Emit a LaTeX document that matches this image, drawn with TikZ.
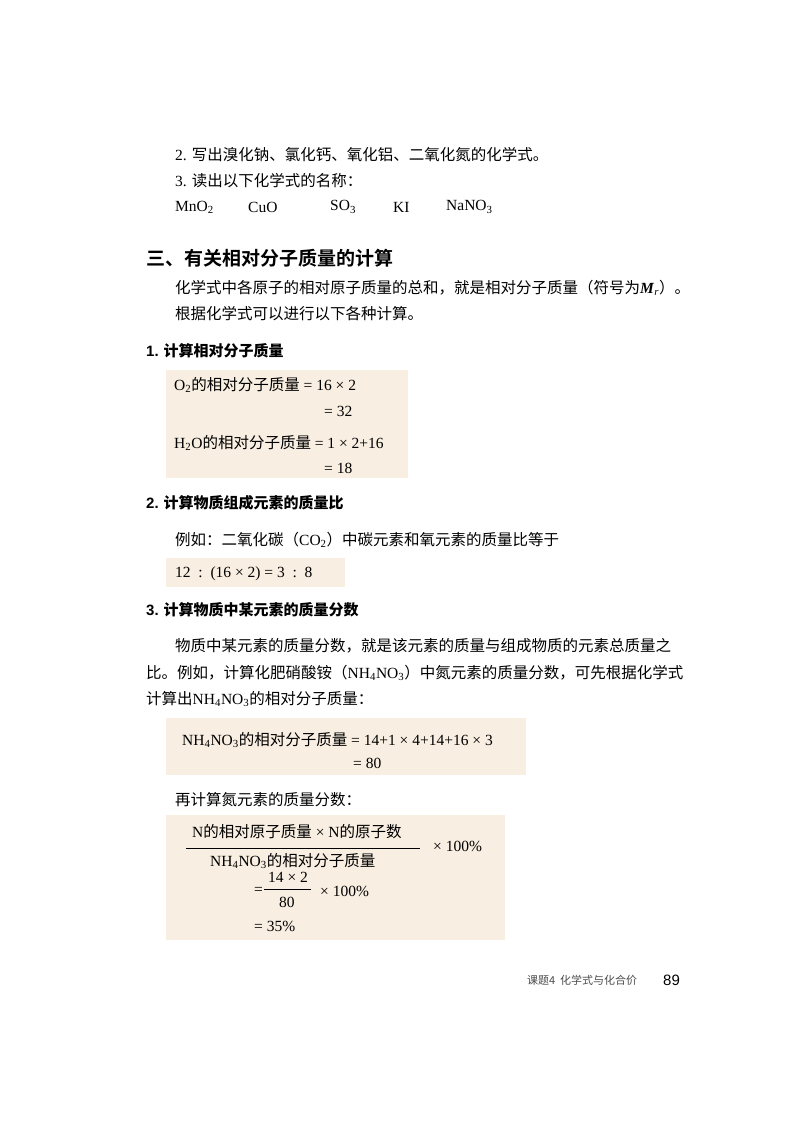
\documentclass[tikz,border=0pt]{standalone}
\usepackage{fontspec}
\setmainfont{Liberation Serif}
\newfontfamily\cjk{Noto Sans CJK SC}
\newfontfamily\cjkb{Noto Sans CJK SC Bold}
\newfontfamily\hsans{Liberation Sans}
\newcommand{\sbs}[1]{\textsubscript{#1}}
\definecolor{boxc}{HTML}{F8EEE1}
\begin{document}
\begin{tikzpicture}[x=1pt,y=-1pt,
  t/.style={anchor=west,inner sep=0pt,font=\fontsize{15.5}{17}\selectfont},
  hd/.style={anchor=west,inner sep=0pt,font=\fontsize{15}{17}\selectfont\bfseries},
  bx/.style={fill=boxc,draw=none}]
\useasboundingbox (0,0) rectangle (800,1131);
\fill[white] (0,0) rectangle (800,1131);
% boxes
\fill[bx] (166,370) rectangle (408,478);
\fill[bx] (166,558) rectangle (345,587);
\fill[bx] (166,718) rectangle (526,775);
\fill[bx] (166,815) rectangle (505,940);
% top exercises
\node[t] (e2) at (175,155) {2. {\cjk 写出溴化钠、氯化钙、氧化铝、二氧化氮的化学式。}};
\node[t] (e3) at (175,181) {3. {\cjk 读出以下化学式的名称：}};
\node[t] (f1) at (175,207) {MnO\sbs{2}};
\node[t] (f2) at (248,207) {CuO};
\node[t] (f3) at (330,207) {SO\sbs{3}};
\node[t] (f4) at (393,207) {KI};
\node[t] (f5) at (446,207) {NaNO\sbs{3}};
% heading
\node[t,font=\fontsize{19}{21}\selectfont\cjkb] (h3) at (146,258) {三、有关相对分子质量的计算};
\node[t] (p1) at (175,288) {{\cjk 化学式中各原子的相对原子质量的总和，就是相对分子质量（符号为}\textit{\textbf{M}}\sbs{\textit{r}}{\cjk ）。}};
\node[t] (p2) at (175,314) {\cjk 根据化学式可以进行以下各种计算。};
% section 1
\node[hd] (s1) at (146,351) {{\hsans\bfseries 1.} {\cjkb 计算相对分子质量}};
\node[t] (a1) at (174,385) {O\sbs{2}{\cjk 的相对分子质量} = 16 × 2};
\node[t] (a2) at (324,411) {= 32};
\node[t] (a3) at (174,443) {H\sbs{2}O{\cjk 的相对分子质量} = 1 × 2+16};
\node[t] (a4) at (324,468) {= 18};
% section 2
\node[hd] (s2) at (146,503) {{\hsans\bfseries 2.} {\cjkb 计算物质组成元素的质量比}};
\node[t] (b1) at (175,540) {{\cjk 例如：二氧化碳（}CO\sbs{2}{\cjk ）中碳元素和氧元素的质量比等于}};
\node[t] (b2) at (175,574) {12\ \ :\ \ (16 × 2) = 3\ \ :\ \ 8};
% section 3
\node[hd] (s3) at (146,610) {{\hsans\bfseries 3.} {\cjkb 计算物质中某元素的质量分数}};
\node[t] (c1) at (175,646) {\cjk 物质中某元素的质量分数，就是该元素的质量与组成物质的元素总质量之};
\node[t] (c2) at (146,673) {{\cjk 比。例如，计算化肥硝酸铵（}NH\sbs{4}NO\sbs{3}{\cjk ）中氮元素的质量分数，可先根据化学式}};
\node[t] (c3) at (146,699) {{\cjk 计算出}NH\sbs{4}NO\sbs{3}{\cjk 的相对分子质量：}};
\node[t] (d1) at (182,740) {NH\sbs{4}NO\sbs{3}{\cjk 的相对分子质量} = 14+1 × 4+14+16 × 3};
\node[t] (d2) at (353,763) {= 80};
\node[t] (d3) at (175,800) {\cjk 再计算氮元素的质量分数：};
% fraction
\node[t] (n1) at (192,832) {N{\cjk 的相对原子质量} × N{\cjk 的原子数}};
\draw[line width=0.7pt] (186,848) -- (420,848);
\node[t] (n2) at (210,861) {NH\sbs{4}NO\sbs{3}{\cjk 的相对分子质量}};
\node[t] (n3) at (433,846) {× 100\%};
\node[t] (g1) at (254,891) {=};
\node[t] (g2) at (268,877) {14 × 2};
\draw[line width=0.7pt] (264,889) -- (311,889);
\node[t] (g3) at (279,902) {80};
\node[t] (g4) at (320,891) {× 100\%};
\node[t] (g5) at (254,926) {= 35\%};
% footer
\node[t,font=\fontsize{11}{12}\selectfont\cjk,text=black!70] (ft) at (527,980) {课题4\ \ 化学式与化合价};
\node[t,font=\fontsize{15}{16}\selectfont\hsans] (pg) at (663,980) {89};
\end{tikzpicture}
\end{document}
